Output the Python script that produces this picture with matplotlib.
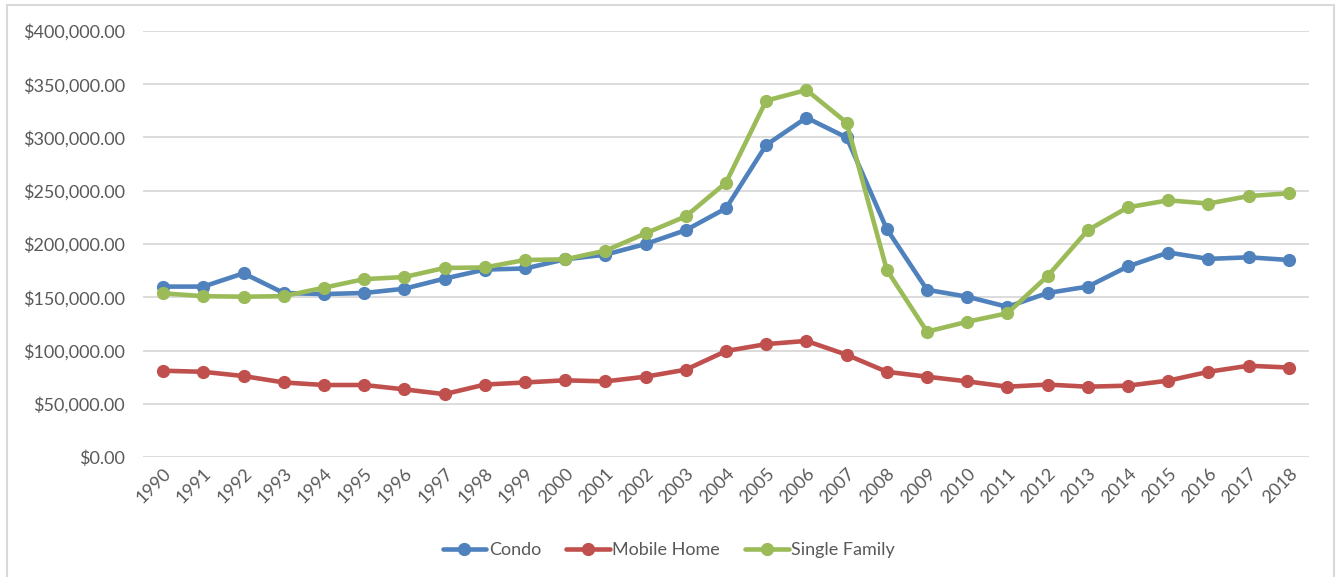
import matplotlib
matplotlib.use("Agg")
import matplotlib.pyplot as plt
from matplotlib.patches import Rectangle
from matplotlib.ticker import FuncFormatter, MultipleLocator

years = list(range(1990, 2019))
condo = [160000, 160000, 172500, 154000, 153000, 154000, 158000, 167500, 176000, 177000,
         185600, 190000, 200000, 213000, 233500, 293000, 318600, 300000, 214000, 157000,
         150500, 141000, 154000, 160000, 179000, 192000, 186000, 187500, 185000]
mobile_home = [81000, 80000, 76000, 70000, 67600, 67600, 63500, 59000, 68000, 70000,
               72000, 71000, 75400, 82000, 99500, 106000, 109000, 96000, 80000, 75400,
               71000, 66000, 68000, 66000, 67000, 71700, 80000, 85700, 84000]
single_family = [153700, 151000, 150500, 151000, 159000, 167000, 169000, 177500, 178000, 185000,
                 185600, 193700, 210000, 226000, 257600, 334600, 344600, 314000, 175600, 117700,
                 127000, 135000, 170000, 213000, 234500, 241000, 238000, 245000, 247600]
series_names = ["Condo", "Mobile Home", "Single Family"]
colors = ["#4F81BD", "#C0504D", "#9BBB59"]

plt.rcParams['font.family'] = ['Lato', 'DejaVu Sans']

W, H = 1338, 577
fig = plt.figure(figsize=(W / 100, H / 100), dpi=100)
ax = fig.add_axes([143 / W, 1 - 457 / H, (1309 - 143) / W, (457 - 31) / H])

x = list(range(len(years)))
for vals, name, c in zip([condo, mobile_home, single_family], series_names, colors):
    ax.plot(x, vals, color=c, lw=3.3, marker='o', markersize=8.5, label=name,
            solid_joinstyle='round', solid_capstyle='round')

ax.set_xlim(-0.5, len(years) - 0.5)
ax.set_ylim(0, 400000)
ax.yaxis.set_major_locator(MultipleLocator(50000))
ax.yaxis.set_major_formatter(FuncFormatter(lambda v, p: "${:,.2f}".format(v)))
ax.set_xticks(x)
ax.set_xticklabels([str(y) for y in years], rotation=45, ha='right', va='top',
                   rotation_mode='anchor')
ax.tick_params(axis='y', length=0, pad=13, labelsize=13, labelcolor='#595959')
ax.tick_params(axis='x', length=0, pad=6, labelsize=13, labelcolor='#595959')
ax.grid(axis='y', color='#d9d9d9', lw=1.3)
ax.set_axisbelow(True)
for s in ax.spines.values():
    s.set_visible(False)

fig.legend(loc='center', bbox_to_anchor=(0.5, 1 - 550 / H), ncol=3, frameon=False,
           fontsize=13, labelcolor='#595959', handlelength=2.4, columnspacing=1.4,
           handletextpad=0.15)

fig.patches.append(Rectangle((7 / W, -0.02), (1334 - 7) / W, 1 - 5 / H + 0.02,
                             transform=fig.transFigure, fill=False,
                             edgecolor='#d9d9d9', lw=1.5))

fig.savefig("out.png", dpi=100)
